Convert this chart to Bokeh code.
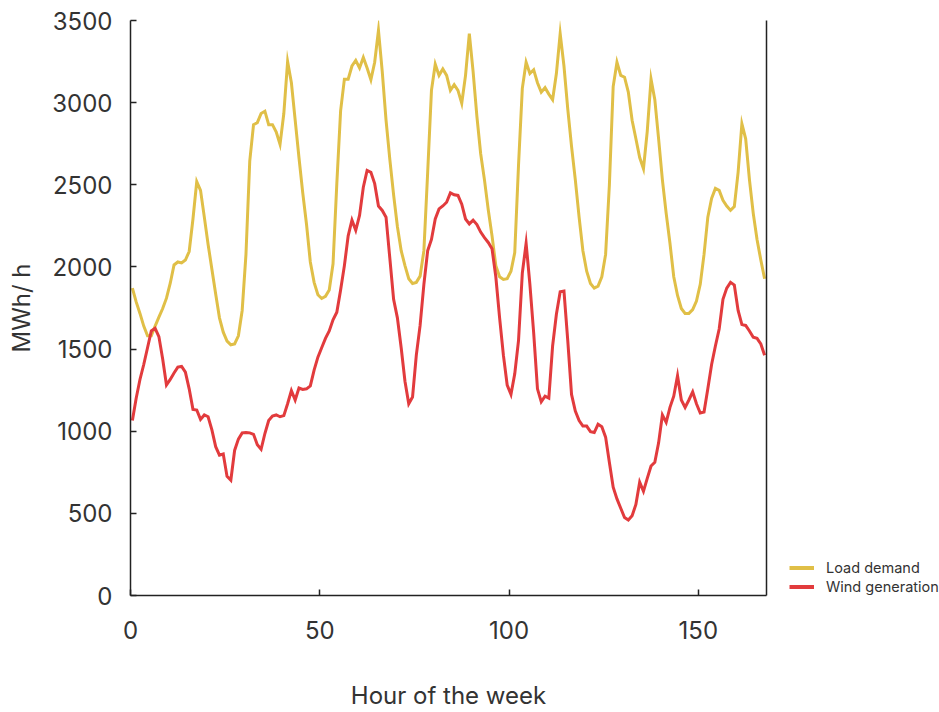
from bokeh.plotting import figure
from bokeh.layouts import row
from bokeh.models import Range1d, FixedTicker, LinearAxis, Legend, LegendItem
from bokeh.embed import file_html
from bokeh.resources import INLINE

# Hour of the week (hourly values plotted at the middle of each hour)
hours = [i + 0.5 for i in range(168)]

load_demand = [
    1871, 1787, 1717, 1640, 1581, 1581, 1640, 1694, 1747, 1810,
    1901, 2012, 2030, 2024, 2042, 2094, 2292, 2519, 2466, 2303,
    2137, 1986, 1835, 1690, 1603, 1549, 1526, 1531, 1581, 1735,
    2076, 2644, 2866, 2878, 2934, 2948, 2866, 2866, 2821, 2746,
    2934, 3250, 3121, 2893, 2666, 2451, 2258, 2030, 1906, 1831,
    1808, 1821, 1860, 2019, 2507, 2950, 3143, 3143, 3223, 3257,
    3211, 3275, 3211, 3139, 3246, 3440, 3189, 2893, 2655, 2439,
    2246, 2099, 2008, 1928, 1899, 1906, 1944, 2099, 2576, 3075,
    3234, 3166, 3205, 3166, 3075, 3109, 3075, 2996, 3166, 3420,
    3189, 2916, 2689, 2530, 2348, 2189, 2008, 1940, 1924, 1928,
    1974, 2087, 2621, 3087, 3246, 3177, 3200, 3121, 3064, 3091,
    3052, 3018, 3177, 3420, 3223, 2962, 2734, 2530, 2303, 2099,
    1974, 1899, 1871, 1883, 1940, 2076, 2500, 3098, 3246, 3166,
    3155, 3064, 2893, 2780, 2666, 2598, 2825, 3143, 3018, 2780,
    2530, 2326, 2144, 1940, 1826, 1747, 1717, 1717, 1740, 1792,
    1894, 2076, 2303, 2417, 2478, 2466, 2405, 2371, 2344, 2367,
    2576, 2871, 2780, 2530, 2326, 2167, 2042, 1928,
]

wind_generation = [
    1065, 1201, 1315, 1406, 1508, 1610, 1626, 1576, 1440, 1281,
    1315, 1354, 1390, 1394, 1360, 1258, 1133, 1129, 1072, 1099,
    1088, 1008, 906, 854, 861, 725, 702, 883, 952, 990,
    992, 990, 981, 918, 890, 986, 1065, 1092, 1099, 1088,
    1095, 1167, 1247, 1190, 1263, 1254, 1258, 1276, 1372, 1451,
    1508, 1565, 1610, 1678, 1724, 1860, 2008, 2189, 2285, 2223,
    2314, 2485, 2587, 2576, 2507, 2371, 2344, 2303, 2053, 1803,
    1690, 1508, 1304, 1167, 1208, 1463, 1644, 1894, 2099, 2167,
    2292, 2353, 2371, 2394, 2451, 2439, 2435, 2382, 2292, 2262,
    2285, 2258, 2212, 2178, 2149, 2110, 1940, 1690, 1463, 1281,
    1224, 1349, 1553, 1962, 2144, 1894, 1599, 1258, 1179, 1213,
    1201, 1519, 1712, 1849, 1853, 1553, 1224, 1122, 1065, 1031,
    1031, 997, 992, 1042, 1027, 964, 810, 659, 588, 531,
    475, 459, 486, 554, 690, 634, 713, 788, 811, 929,
    1099, 1054, 1145, 1213, 1338, 1190, 1145, 1190, 1240, 1167,
    1111, 1117, 1258, 1406, 1519, 1622, 1803, 1871, 1906, 1890,
    1735, 1649, 1644, 1610, 1572, 1565, 1531, 1463,
]

x_ticks = [0, 50, 100, 150]
y_ticks = [0, 500, 1000, 1500, 2000, 2500, 3000, 3500]
series_names = ["Load demand", "Wind generation"]
series_colors = ["#e0bf47", "#e23b3d"]

FONT = "Inter"
TEXT = "#333333"
AXIS = "#222222"

p = figure(
    width=768, height=712,
    output_backend="svg", toolbar_location=None,
    x_range=Range1d(0, 168), y_range=Range1d(0, 3500),
    min_border_left=130, min_border_right=2,
    min_border_top=20, min_border_bottom=117,
    x_axis_label="Hour of the week", y_axis_label="MWh/ h",
)
p.outline_line_color = None
p.grid.visible = False
p.background_fill_color = "white"
p.border_fill_color = "white"

p.line(hours, load_demand, line_color=series_colors[0], line_width=3, line_join="miter")
p.line(hours, wind_generation, line_color=series_colors[1], line_width=3, line_join="miter")

for ax in (p.xaxis[0], p.yaxis[0]):
    ax.axis_line_color = AXIS
    ax.axis_line_width = 1.5
    ax.major_tick_line_color = AXIS
    ax.major_tick_line_width = 1.5
    ax.major_tick_in = 6
    ax.major_tick_out = 0
    ax.minor_tick_line_color = None
    ax.major_label_text_font = FONT
    ax.major_label_text_font_size = "24px"
    ax.major_label_text_color = TEXT
    ax.axis_label_text_font = FONT
    ax.axis_label_text_font_size = "24px"
    ax.axis_label_text_font_style = "normal"
    ax.axis_label_text_color = TEXT

p.xaxis[0].ticker = FixedTicker(ticks=x_ticks)
p.yaxis[0].ticker = FixedTicker(ticks=y_ticks)
p.xaxis[0].major_label_standoff = 25
p.xaxis[0].axis_label_standoff = 39
p.yaxis[0].major_label_standoff = 18
p.yaxis[0].axis_label_standoff = 13

# right-hand frame line
right = LinearAxis(ticker=FixedTicker(ticks=[]), axis_line_color=AXIS, axis_line_width=1.5,
                   major_tick_in=0, major_tick_out=0, major_tick_line_color=None,
                   minor_tick_line_color=None, major_label_text_font_size="0px",
                   major_label_standoff=0)
p.add_layout(right, "right")

# legend panel to the right of the chart (proxy lines lie outside its view)
lp = figure(
    width=171, height=712,
    output_backend="svg", toolbar_location=None,
    x_range=Range1d(0, 1), y_range=Range1d(0, 1),
    x_axis_type=None, y_axis_type=None,
    min_border_left=0, min_border_right=0,
    min_border_top=20, min_border_bottom=117,
)
lp.outline_line_color = None
lp.grid.visible = False
lp.border_fill_color = "white"
lp.background_fill_color = "white"
k1 = lp.line(x=[-2, -3], y=[-2, -3], line_color=series_colors[0], line_width=4)
k2 = lp.line(x=[-2, -3], y=[-2, -3], line_color=series_colors[1], line_width=4)

legend = Legend(
    items=[LegendItem(label=series_names[0], renderers=[k1]),
           LegendItem(label=series_names[1], renderers=[k2])],
    location=(21, 0),
    orientation="vertical",
    border_line_color=None,
    background_fill_alpha=0,
    padding=0, margin=0, spacing=2,
    glyph_width=25, glyph_height=15,
    label_standoff=12,
    label_text_font=FONT, label_text_font_size="14.5px", label_text_color=TEXT,
    label_height=15,
)
lp.add_layout(legend, "center")

layout = row(p, lp, spacing=0)
open("out.html", "w").write(file_html(layout, INLINE))
